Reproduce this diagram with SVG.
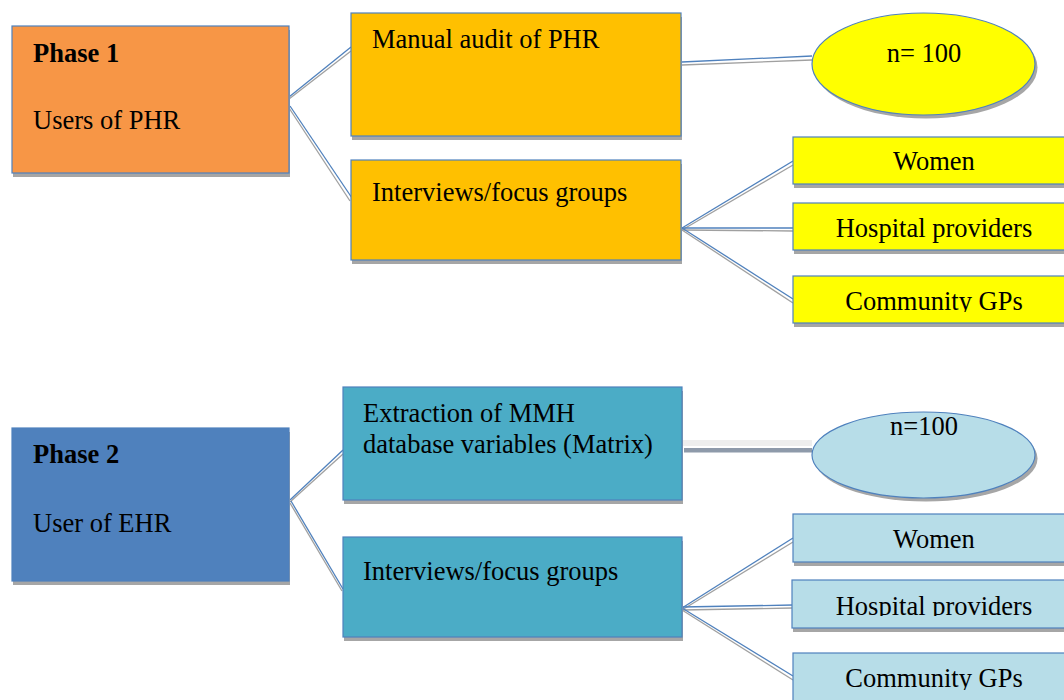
<svg xmlns="http://www.w3.org/2000/svg" width="1064" height="700" viewBox="0 0 1064 700">
<defs>
<style>
.box{stroke:#4F81BD;stroke-width:1.2}
.sh{fill:#A6A6A6}
.t{font-family:"Liberation Serif","Times New Roman",serif;font-size:26.5px;fill:#000}
.b{font-weight:bold}
.c{text-anchor:middle}
.lb{stroke:#4F81BD;stroke-width:1.3;fill:none}
.lg{stroke:#A0A0A0;stroke-width:1.3;fill:none}
</style>
<clipPath id="cp1"><rect x="793" y="276" width="300" height="36"/></clipPath>
<clipPath id="cp2"><rect x="792" y="580" width="300" height="36"/></clipPath>
<clipPath id="cp3"><rect x="793" y="653" width="300" height="37"/></clipPath>
</defs>
<rect width="1064" height="700" fill="#fff"/>
<g id="connectors">
<line class="lg" x1="289" y1="99" x2="351" y2="51"/>
<line class="lb" x1="289" y1="97" x2="351" y2="47"/>
<line class="lg" x1="289" y1="108" x2="350" y2="201"/>
<line class="lb" x1="290" y1="106" x2="352" y2="198"/>
<line class="lg" x1="682" y1="65" x2="812" y2="60"/>
<line class="lb" x1="682" y1="62" x2="812" y2="56"/>
<line class="lg" x1="682" y1="230" x2="793" y2="165"/>
<line class="lb" x1="682" y1="228" x2="793" y2="161"/>
<line class="lg" x1="682" y1="230" x2="793" y2="231"/>
<line class="lb" x1="682" y1="228" x2="793" y2="228"/>
<line class="lg" x1="682" y1="230" x2="793" y2="303"/>
<line class="lb" x1="682" y1="228" x2="793" y2="299"/>
<line class="lg" x1="290" y1="502" x2="343" y2="454"/>
<line class="lb" x1="290" y1="500" x2="343" y2="450"/>
<line class="lg" x1="290" y1="503" x2="342" y2="591"/>
<line class="lb" x1="291" y1="501" x2="343" y2="589"/>
<rect x="682" y="440" width="130" height="6" fill="#EEEEEE"/>
<rect x="684" y="448" width="128" height="4.5" fill="#8E9AAA"/>
<line class="lg" x1="682" y1="610" x2="793" y2="542"/>
<line class="lb" x1="682" y1="608" x2="793" y2="538"/>
<line class="lg" x1="682" y1="610" x2="793" y2="608"/>
<line class="lb" x1="682" y1="607" x2="793" y2="605"/>
<line class="lg" x1="682" y1="610" x2="793" y2="680"/>
<line class="lb" x1="682" y1="608" x2="793" y2="676"/>
</g>
<g id="phase1">
<rect class="sh" x="13" y="30" width="277" height="147"/>
<rect class="box" x="12" y="26" width="277" height="147" fill="#F79646"/>
<text class="t b" x="33" y="62">Phase 1</text>
<text class="t" x="33" y="129">Users of PHR</text>
</g>
<g id="manual-audit">
<rect class="sh" x="352" y="17" width="330" height="123"/>
<rect class="box" x="351" y="13" width="330" height="123" fill="#FFC000"/>
<text class="t" x="372" y="48">Manual audit of PHR</text>
</g>
<g id="interviews1">
<rect class="sh" x="352" y="164" width="330" height="100"/>
<rect class="box" x="351" y="160" width="330" height="100" fill="#FFC000"/>
<text class="t" x="372" y="201">Interviews/focus groups</text>
</g>
<g id="n100-1">
<ellipse cx="926" cy="67.5" rx="111.5" ry="51" fill="#A6A6A6"/>
<ellipse cx="923.5" cy="64" rx="111.5" ry="51" fill="#FFFF00" stroke="#4F81BD" stroke-width="1.2"/>
<text class="t c" x="924" y="62">n= 100</text>
</g>
<g id="women1">
<rect class="sh" x="794" y="141" width="290" height="47"/>
<rect class="box" x="793" y="137" width="290" height="47" fill="#FFFF00"/>
<text class="t c" x="934" y="170">Women</text>
</g>
<g id="hospital1">
<rect class="sh" x="794" y="207" width="290" height="47"/>
<rect class="box" x="793" y="203" width="290" height="47" fill="#FFFF00"/>
<text class="t c" x="934" y="237">Hospital providers</text>
</g>
<g id="community1">
<rect class="sh" x="794" y="280" width="290" height="47"/>
<rect class="box" x="793" y="276" width="290" height="47" fill="#FFFF00"/>
<text class="t c" x="934" y="310" clip-path="url(#cp1)">Community GPs</text>
</g>
<g id="phase2">
<rect class="sh" x="13" y="432" width="277" height="153"/>
<rect class="box" x="12" y="428" width="277" height="153" fill="#4F81BD"/>
<text class="t b" x="33" y="463">Phase 2</text>
<text class="t" x="33" y="532">User of EHR</text>
</g>
<g id="extraction">
<rect class="sh" x="344" y="391" width="339" height="113"/>
<rect class="box" x="343" y="387" width="339" height="113" fill="#4BACC6"/>
<text class="t" x="363" y="422">Extraction of MMH</text>
<text class="t" x="363" y="453">database variables (Matrix)</text>
</g>
<g id="interviews2">
<rect class="sh" x="344" y="541" width="339" height="100"/>
<rect class="box" x="343" y="537" width="339" height="100" fill="#4BACC6"/>
<text class="t" x="363" y="580">Interviews/focus groups</text>
</g>
<g id="n100-2">
<ellipse cx="926" cy="458.5" rx="111.5" ry="43" fill="#A6A6A6"/>
<ellipse cx="923.5" cy="455" rx="111.5" ry="43" fill="#B7DDE8" stroke="#4F81BD" stroke-width="1.2"/>
<text class="t c" x="924" y="435">n=100</text>
</g>
<g id="women2">
<rect class="sh" x="794" y="518" width="290" height="48"/>
<rect class="box" x="793" y="514" width="290" height="48" fill="#B7DDE8"/>
<text class="t c" x="934" y="548">Women</text>
</g>
<g id="hospital2">
<rect class="sh" x="793" y="584" width="290" height="48"/>
<rect class="box" x="792" y="580" width="290" height="48" fill="#B7DDE8"/>
<text class="t c" x="934" y="615" clip-path="url(#cp2)">Hospital providers</text>
</g>
<g id="community2">
<rect class="sh" x="794" y="657" width="290" height="60"/>
<rect class="box" x="793" y="653" width="290" height="60" fill="#B7DDE8"/>
<text class="t c" x="934" y="687" clip-path="url(#cp3)">Community GPs</text>
</g>
</svg>
